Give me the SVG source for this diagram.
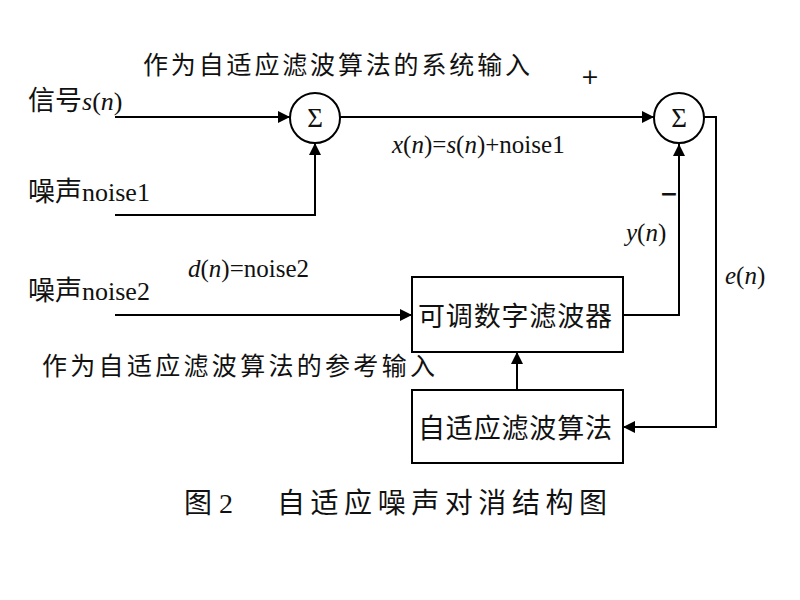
<svg xmlns="http://www.w3.org/2000/svg" width="800" height="600" viewBox="0 0 800 600">
<style>
.ln{fill:none;stroke:#000;stroke-width:2}
.bx{fill:#fff;stroke:#000;stroke-width:2}
.t{font-family:"Liberation Serif","Noto Sans CJK SC",serif;fill:#111}
.s{font-family:"DejaVu Sans",sans-serif;fill:#111}
.i{font-style:italic}
</style>
<defs>
<marker id="ar" viewBox="0 0 10 10" refX="10" refY="5" markerWidth="12" markerHeight="12" markerUnits="userSpaceOnUse" orient="auto">
<path d="M0,0 L10,5 L0,10 z" fill="#000"/>
</marker>
</defs>
<rect width="800" height="600" fill="#fff"/>
<g id="connectors">
<path class="ln" d="M115,117 H290" marker-end="url(#ar)"/>
<path class="ln" d="M115,215 H315 V143" marker-end="url(#ar)"/>
<path class="ln" d="M340,117 H654" marker-end="url(#ar)"/>
<path class="ln" d="M115,315 H412" marker-end="url(#ar)"/>
<path class="ln" d="M623,315 H679 V144" marker-end="url(#ar)"/>
<path class="ln" d="M704,117 H716 V427 H623" marker-end="url(#ar)"/>
<path class="ln" d="M517,390 V352" marker-end="url(#ar)"/>
</g>
<g id="sum1">
<circle class="bx" cx="315" cy="118" r="25"/>
<text class="t" x="315" y="127" font-size="27" text-anchor="middle">Σ</text>
</g>
<g id="sum2">
<circle class="bx" cx="679" cy="118" r="25"/>
<text class="t" x="679" y="127" font-size="27" text-anchor="middle">Σ</text>
</g>
<g id="filter">
<rect class="bx" x="412" y="277" width="211" height="75"/>
<text class="t" x="418" y="326" font-size="27" textLength="194" lengthAdjust="spacing">可调数字滤波器</text>
</g>
<g id="algorithm">
<rect class="bx" x="412" y="390" width="211" height="73"/>
<text class="t" x="418" y="438" font-size="27" textLength="194" lengthAdjust="spacing">自适应滤波算法</text>
</g>
<g id="labels">
<text class="t" x="143" y="74" font-size="25" textLength="387" lengthAdjust="spacing">作为自适应滤波算法的系统输入</text>
<text class="t" x="28" y="110" font-size="26"><tspan font-size="27">信号</tspan><tspan class="i">s</tspan>(<tspan class="i">n</tspan>)</text>
<text class="t" x="28" y="201" font-size="26"><tspan font-size="27">噪声</tspan>noise1</text>
<text class="t" x="28" y="300" font-size="26"><tspan font-size="27">噪声</tspan>noise2</text>
<text class="t" x="188" y="277" font-size="25"><tspan class="i">d</tspan>(<tspan class="i">n</tspan>)=noise2</text>
<text class="t" x="392" y="153" font-size="25"><tspan class="i">x</tspan>(<tspan class="i">n</tspan>)=<tspan class="i">s</tspan>(<tspan class="i">n</tspan>)+noise1</text>
<text class="s" x="590" y="84" font-size="22" text-anchor="middle">+</text>
<text class="s" x="669" y="201" font-size="22" font-weight="bold" text-anchor="middle">−</text>
<text class="t" x="626" y="241" font-size="25"><tspan class="i">y</tspan>(<tspan class="i">n</tspan>)</text>
<text class="t" x="725" y="284" font-size="25"><tspan class="i">e</tspan>(<tspan class="i">n</tspan>)</text>
<text class="t" x="42" y="375" font-size="25" textLength="393" lengthAdjust="spacing">作为自适应滤波算法的参考输入</text>
<text class="t" x="184" y="513" font-size="28">图</text>
<text class="t" x="219" y="513" font-size="28">2</text>
<text class="t" x="277" y="513" font-size="28" textLength="330" lengthAdjust="spacing">自适应噪声对消结构图</text>
</g>
</svg>
